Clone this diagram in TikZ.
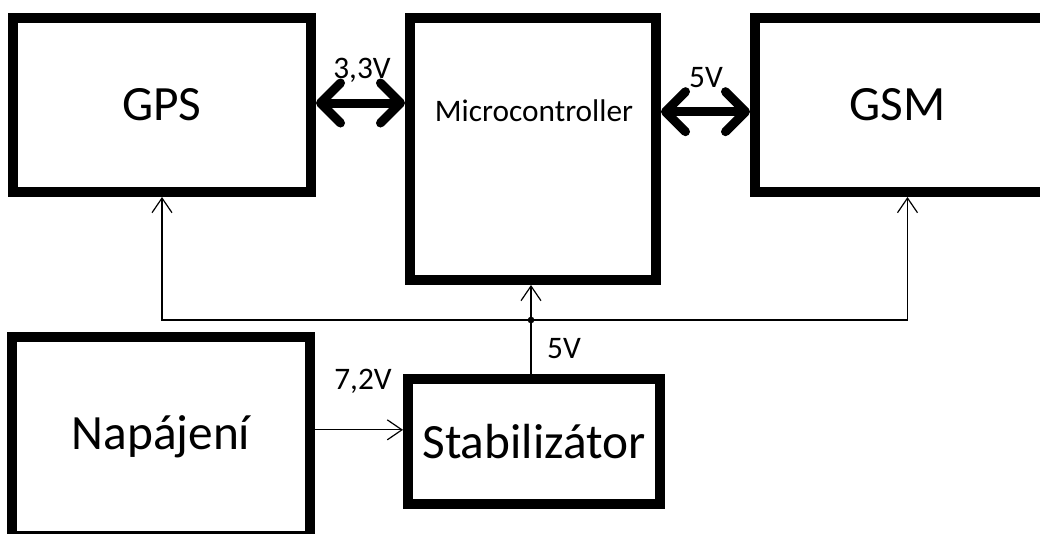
\documentclass[tikz,border=0pt]{standalone}
\usepackage{fontspec}
\setmainfont{Carlito}
\usetikzlibrary{positioning, arrows.meta, calc}

\tikzset{
  blok/.style={draw=black, line width=7.5pt, fill=white,
               font=\fontsize{37}{42}\selectfont, align=center},
  napeti/.style={font=\fontsize{23.5}{26}\selectfont, inner sep=0pt},
  tlusta/.style={line width=6.75pt,
                 {Straight Barb[length=15pt, width=30pt, round]}-{Straight Barb[length=15pt, width=30pt, round]}},
  tenka/.style={line width=0.9pt, -{Straight Barb[length=11pt, width=15pt]}}
}

\begin{document}
\begin{tikzpicture}[x=0.75pt, y=-0.75pt]
    \useasboundingbox (0,0) rectangle (1040,533);

    % bloky
    \node[blok, minimum width=223.5pt, minimum height=130.5pt] (gps) at (162,105) {GPS};
    \node[blok, minimum width=184.5pt, minimum height=196.5pt] (mcu) at (533,149) {};
    \node[napeti, font=\fontsize{23.5}{26}\selectfont] (mcutxt) at (534,111) {Microcontroller};
    \node[blok, minimum width=228.75pt, minimum height=130.5pt,
          label={[xshift=-7.5pt, font=\fontsize{37}{42}\selectfont]center:GSM}] (gsm) at (907.5,105) {};
    \node[blok, minimum width=223.5pt, minimum height=149.25pt] (nap) at (161,436.5) {Napájení};
    \node[blok, minimum width=189pt, minimum height=93.75pt] (stab) at (534,441.5) {Stabilizátor};

    % datove linky
    \draw[tlusta] ([yshift=1.5pt]gps.east) -- ([yshift=1.5pt]gps.east -| mcu.west);
    \draw[tlusta] ([yshift=-5pt]gsm.west -| mcu.east) -- ([yshift=-5pt]gsm.west);
    \node[napeti] (u33) at (362,70) {3,3V};
    \node[napeti] (u5a) at (706,78) {5V};

    % napajeni
    \coordinate (jn) at (531,320);
    \draw[tenka] ([yshift=5pt]nap.east) -- ([yshift=5pt]nap.east -| stab.west);
    \draw[line width=0.9pt] (jn |- stab.north) -- (jn);
    \draw[tenka] (jn) -- (jn |- mcu.south);
    \draw[tenka] (jn) -| (gps.south);
    \draw[tenka] (jn) -| (gsm.south);
    \fill (jn) circle[radius=2.5pt];
    \node[napeti] (u72) at (363,381) {7,2V};
    \node[napeti] (u5b) at (564,349) {5V};
\end{tikzpicture}
\end{document}
